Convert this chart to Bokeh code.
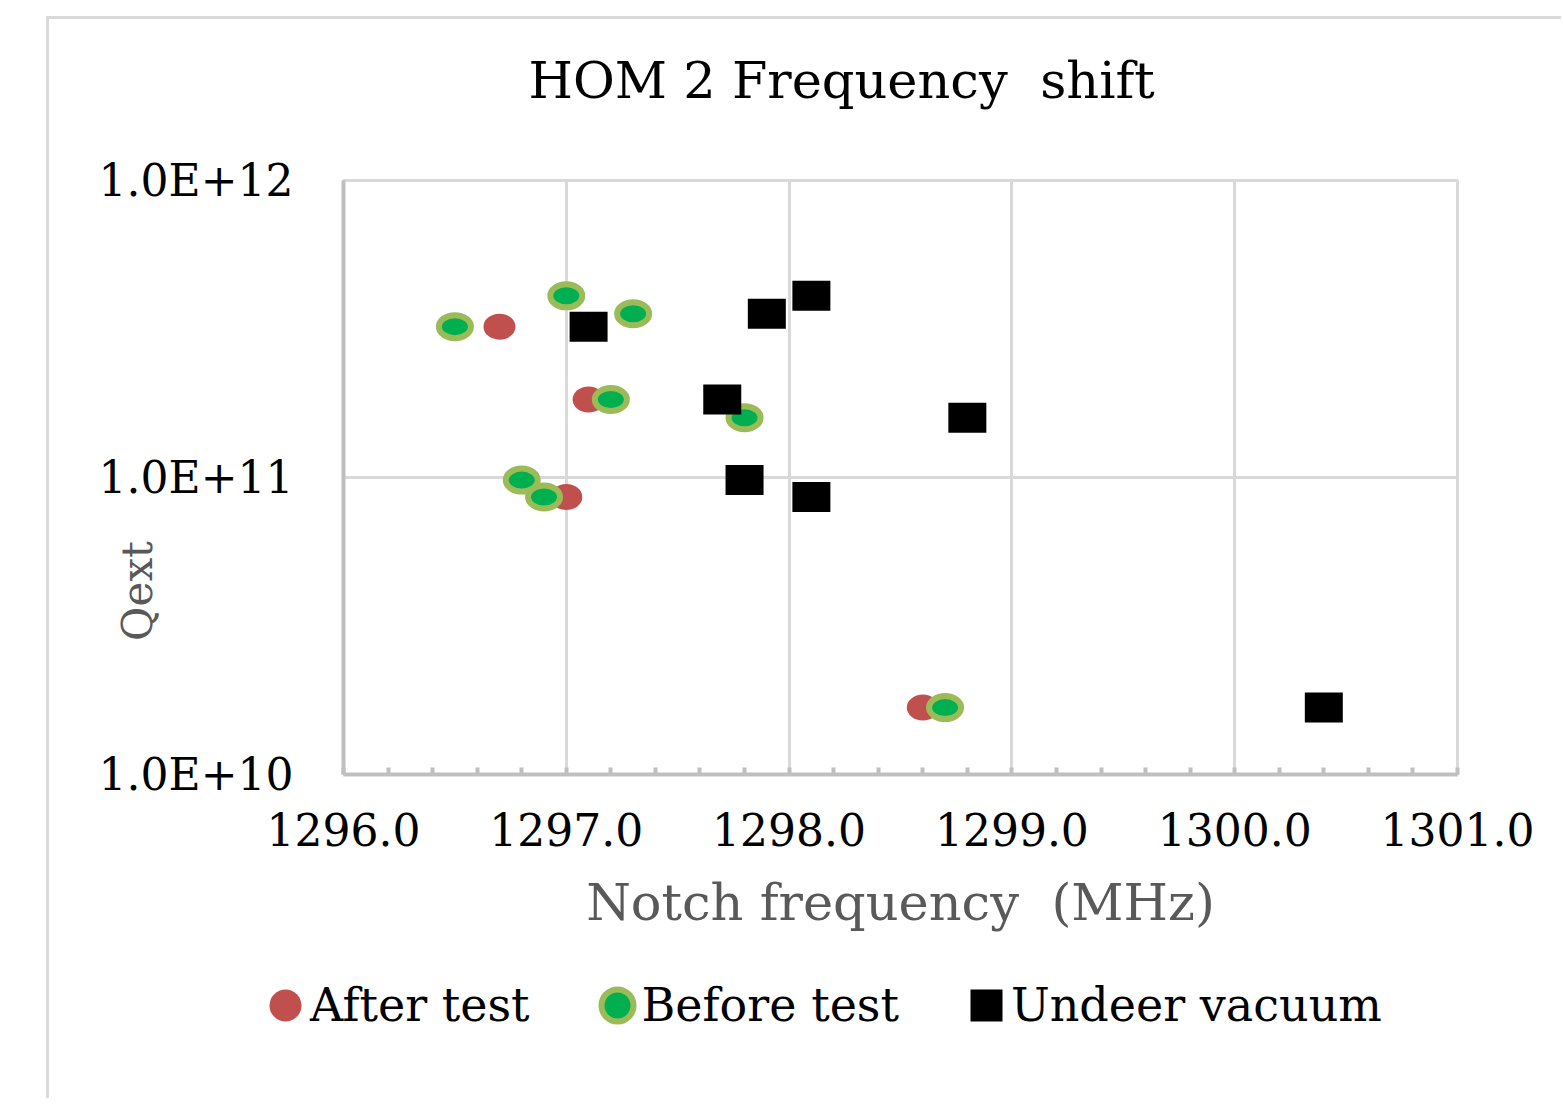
from bokeh.plotting import figure
from bokeh.layouts import column
from bokeh.models import (Range1d, SingleIntervalTicker, FixedTicker, CustomJSTickFormatter,
                          Legend, LegendItem, Title)
from bokeh.embed import file_html
from bokeh.resources import INLINE

# ---- data ----
after_freq = [1296.7, 1297.1, 1297.0, 1298.6, 1297.0, 1297.3, 1297.8, 1296.8]
after_qext = [3.22e11, 1.83e11, 8.6e10, 1.68e10, 4.09e11, 3.56e11, 1.59e11, 9.8e10]

before_freq = [1296.5, 1297.0, 1297.3, 1297.2, 1297.8, 1296.8, 1296.9, 1298.7]
before_qext = [3.22e11, 4.09e11, 3.56e11, 1.83e11, 1.59e11, 9.8e10, 8.6e10, 1.68e10]

vacuum_freq = [1297.1, 1298.1, 1297.9, 1297.7, 1298.8, 1297.8, 1298.1, 1300.4]
vacuum_qext = [3.22e11, 4.09e11, 3.56e11, 1.83e11, 1.59e11, 9.8e10, 8.6e10, 1.68e10]

series_names = ["After test", "Before test", "Undeer vacuum"]
title_text = "HOM 2 Frequency\u00a0 shift"
x_label = "Notch frequency\u00a0 (MHz)"
y_label = "Qext"
y_ticks = [1e10, 1e11, 1e12]

FONT = "DejaVu Serif"
NB = "\u00a0"

RED, GREEN, RING = "#c0504d", "#00b050", "#9bbb59"

FL, FT, FW, FH, FR, FB = 294, 161, 1111, 591, 107, 187
BORDER = {"border-left": "3px solid #d9d9d9"}

p = figure(frame_width=FW, frame_height=FH, output_backend="svg", toolbar_location=None,
           y_axis_type="log",
           x_range=Range1d(1296, 1301), y_range=Range1d(1e10, 1e12),
           min_border_left=FL, min_border_top=FT,
           min_border_right=FR, min_border_bottom=FB,
           margin=(16, 0, 0, 46),
           styles={"border-left": "3px solid #d9d9d9", "border-top": "3px solid #d9d9d9"})
p.background_fill_color = "white"
p.border_fill_color = "white"
p.outline_line_color = "#d9d9d9"
p.outline_line_width = 3

# title (outermost) + spacer between title and frame
p.title.text = title_text
p.title.align = "left"
p.title.offset = 185
p.title.text_font = FONT
p.title.text_font_size = "51px"
p.title.text_font_style = "normal"
p.title.text_color = "black"
p.title.standoff = 0
p.add_layout(Title(text=" ", text_font_size="1px", standoff=68), "above")

# x axis
xa = p.xaxis[0]
xa.ticker = SingleIntervalTicker(interval=1, num_minor_ticks=5)
xa.formatter = CustomJSTickFormatter(code="return tick.toFixed(1);")
xa.axis_line_color = "#bfbfbf"
xa.axis_line_width = 4
xa.major_tick_in = 0
xa.major_tick_out = 0
xa.minor_tick_in = 7
xa.minor_tick_out = 0
xa.minor_tick_line_color = "#bfbfbf"
xa.minor_tick_line_width = 4
xa.major_label_text_font = FONT
xa.major_label_text_font_size = "44px"
xa.major_label_text_color = "black"
xa.major_label_standoff = 38
xa.axis_label = x_label
xa.axis_label_text_font = FONT
xa.axis_label_text_font_size = "51px"
xa.axis_label_text_font_style = "normal"
xa.axis_label_text_color = "#595959"
xa.axis_label_standoff = 24

# y axis
ya = p.yaxis[0]
ya.ticker = FixedTicker(ticks=y_ticks, minor_ticks=[])
ya.formatter = CustomJSTickFormatter(code="return tick.toExponential(1).toUpperCase();")
ya.axis_line_color = "#bfbfbf"
ya.axis_line_width = 4
ya.major_tick_in = 0
ya.major_tick_out = 0
ya.minor_tick_in = 0
ya.minor_tick_out = 0
ya.major_label_text_font = FONT
ya.major_label_text_font_size = "44px"
ya.major_label_text_color = "black"
ya.major_label_standoff = 50
ya.axis_label = y_label + NB * 17
ya.axis_label_text_font = FONT
ya.axis_label_text_font_size = "42px"
ya.axis_label_text_font_style = "normal"
ya.axis_label_text_color = "#595959"
ya.axis_label_standoff = -66

# grids
p.xgrid.ticker = SingleIntervalTicker(interval=1)
p.xgrid.grid_line_color = "#d9d9d9"
p.xgrid.grid_line_width = 3
p.ygrid.ticker = FixedTicker(ticks=y_ticks)
p.ygrid.grid_line_color = "#d9d9d9"
p.ygrid.grid_line_width = 3

# series
p.ellipse(x=after_freq, y=after_qext, width=32, height=26,
          width_units="screen", height_units="screen",
          fill_color=RED, line_color=None)
p.ellipse(x=before_freq, y=before_qext, width=32, height=23,
          width_units="screen", height_units="screen",
          fill_color=GREEN, line_color=RING, line_width=6)
p.rect(x=vacuum_freq, y=vacuum_qext, width=38, height=30,
       width_units="screen", height_units="screen",
       fill_color="black", line_color=None)

# ---- legend strip below the chart ----
LW, LH = FL + FW + FR, 140
q = figure(frame_width=LW, frame_height=LH, output_backend="svg", toolbar_location=None,
           x_range=Range1d(0, 1), y_range=Range1d(0, 1),
           min_border=0, margin=(0, 0, 0, 46), styles=BORDER)
q.axis.visible = False
q.grid.visible = False
q.outline_line_color = None
q.background_fill_color = "white"
q.border_fill_color = "white"

# legend swatches: one key point each, kept outside the strip's visible range
key_x, key_y = [-5], [-5]
la = q.ellipse(x=key_x, y=key_y, width=28, height=28, width_units="screen", height_units="screen",
               fill_color=RED, line_color=None)
lb = q.ellipse(x=key_x, y=key_y, width=28, height=28, width_units="screen", height_units="screen",
               fill_color=GREEN, line_color=RING, line_width=6)
lc = q.rect(x=key_x, y=key_y, width=30, height=30, width_units="screen", height_units="screen",
            fill_color="black", line_color=None)

legend = Legend(items=[LegendItem(label=series_names[0], renderers=[la]),
                       LegendItem(label=series_names[1], renderers=[lb]),
                       LegendItem(label=series_names[2], renderers=[lc])],
                orientation="horizontal", location=(216, 66),
                glyph_width=40, glyph_height=40, label_standoff=5, spacing=67,
                padding=0, margin=0, border_line_color=None, background_fill_alpha=0,
                label_text_font=FONT, label_text_font_size="46px", label_text_color="black")
q.add_layout(legend, "center")

layout = column(p, q, spacing=0)
open("out.html", "w").write(file_html(layout, INLINE))
